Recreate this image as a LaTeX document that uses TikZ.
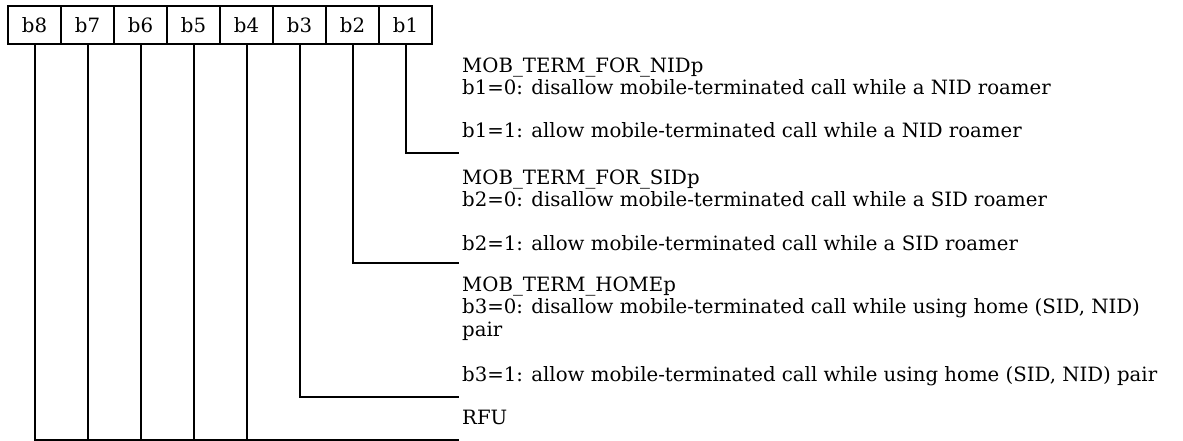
\documentclass[tikz,border=0pt]{standalone}
\usepackage{fontspec}
\setmainfont{DejaVu Serif}
\newlength\reflen
\begin{document}
\settowidth\reflen{\fontsize{18pt}{22pt}\selectfont b3=1: allow mobile-terminated call while using home (SID, NID) pair}%
\pgfmathsetmacro\fsz{18*695/\reflen}%
\begin{tikzpicture}[x=1pt,y=-1pt,
  ln/.style={line width=2pt,line cap=rect},
  cell/.style={draw,line width=2pt,minimum width=53pt,minimum height=38pt,inner sep=0pt,anchor=center,font=\fontsize{\fsz pt}{\fsz pt}\selectfont},
  txt/.style={anchor=base west,inner sep=0pt,font=\fontsize{\fsz pt}{\fsz pt}\selectfont}]
\useasboundingbox (0,0) rectangle (1183,441);
% register cells
\node[cell] (c8) at (34.5,25) {b8};
\node[cell] (c7) at (87.5,25) {b7};
\node[cell] (c6) at (140.5,25) {b6};
\node[cell] (c5) at (193.5,25) {b5};
\node[cell] (c4) at (246.5,25) {b4};
\node[cell] (c3) at (299.5,25) {b3};
\node[cell] (c2) at (352.5,25) {b2};
\node[cell] (c1) at (405.5,25) {b1};
% connector ends
\coordinate (e1) at (458,153);
\coordinate (e2) at (458,263);
\coordinate (e3) at (458,397);
\coordinate (e4) at (458,439.5);
\draw[ln] (c1.south) |- (e1);
\draw[ln] (c2.south) |- (e2);
\draw[ln] (c3.south) |- (e3);
\draw[ln] (c8.south) |- (e4);
\draw[ln] (c7.south) -- (c7.south |- e4);
\draw[ln] (c6.south) -- (c6.south |- e4);
\draw[ln] (c5.south) -- (c5.south |- e4);
\draw[ln] (c4.south) -- (c4.south |- e4);
% texts
\node[txt] (t1a) at (462,73) {MOB\_TERM\_FOR\_NIDp};
\node[txt] (t1b) at (462,95) {b1=0: disallow mobile-terminated call while a NID roamer};
\node[txt] (t1c) at (462,138) {b1=1: allow mobile-terminated call while a NID roamer};
\node[txt] (t2a) at (462,184) {MOB\_TERM\_FOR\_SIDp};
\node[txt] (t2b) at (462,206) {b2=0: disallow mobile-terminated call while a SID roamer};
\node[txt] (t2c) at (462,250) {b2=1: allow mobile-terminated call while a SID roamer};
\node[txt] (t3a) at (462,291) {MOB\_TERM\_HOMEp};
\node[txt] (t3b) at (462,313) {b3=0: disallow mobile-terminated call while using home (SID, NID)};
\node[txt] (t3c) at (462,336) {pair};
\node[txt] (t3d) at (462,381) {b3=1: allow mobile-terminated call while using home (SID, NID) pair};
\node[txt] (t4a) at (462,424) {RFU};
\end{tikzpicture}
\end{document}
